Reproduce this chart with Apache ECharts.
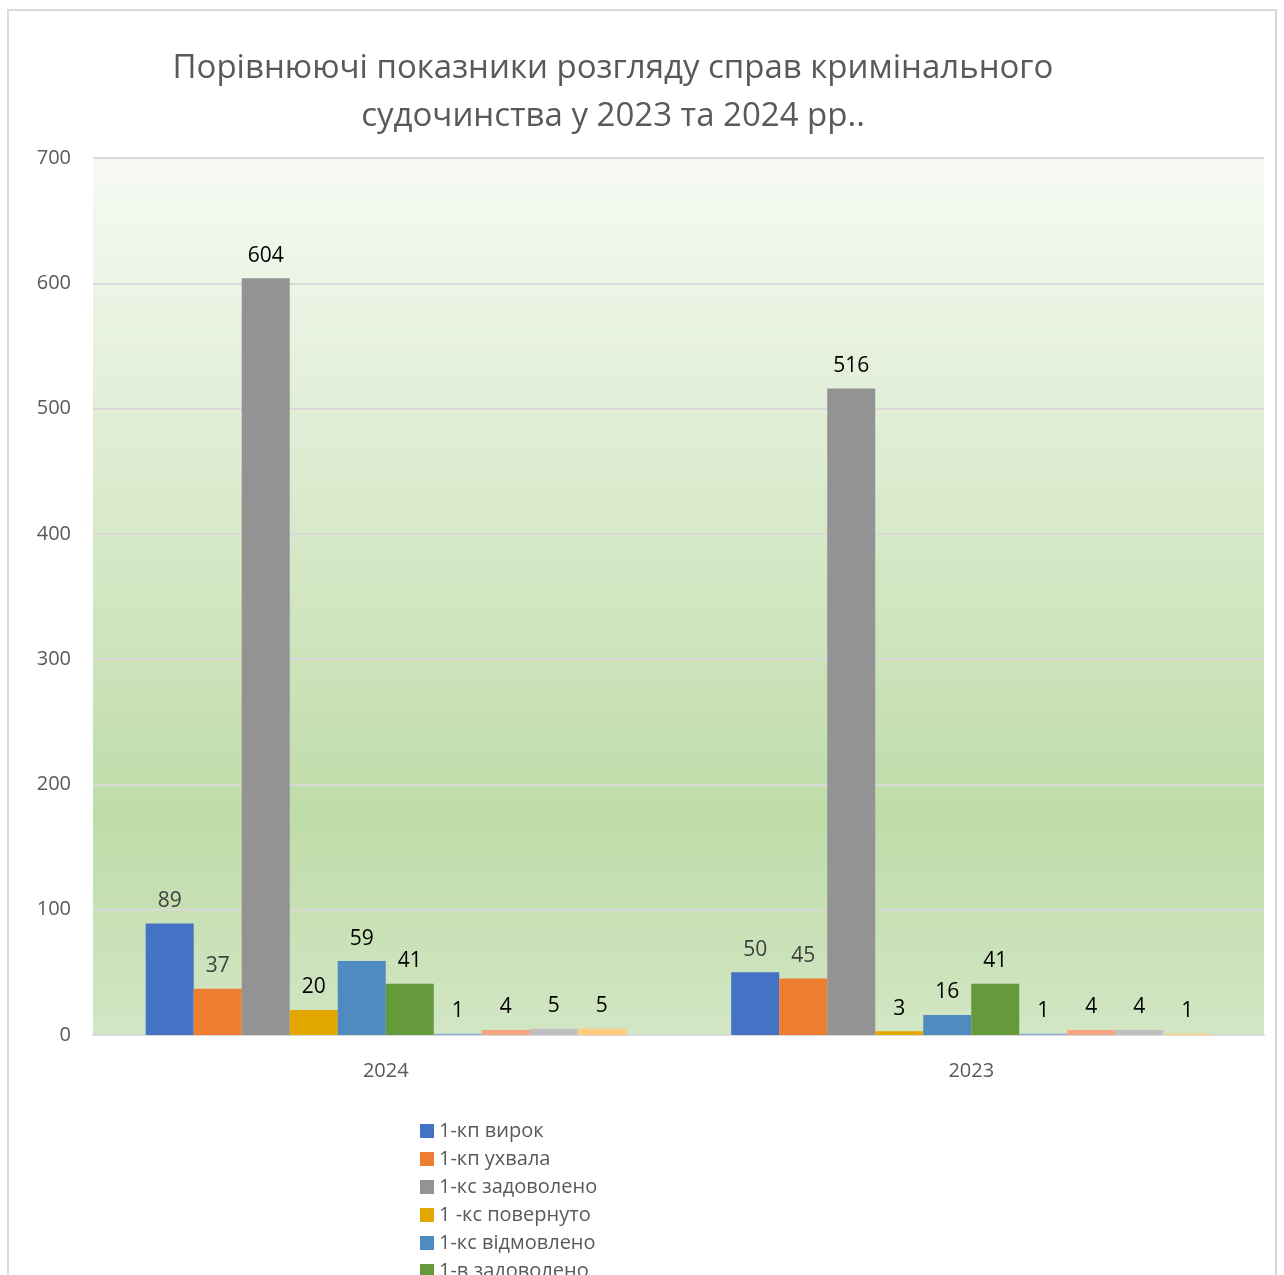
<!DOCTYPE html>
<html>
<head>
<meta charset="utf-8">
<script src="https://cdn.jsdelivr.net/npm/echarts@6/dist/echarts.min.js"></script>
<style>
html,body{margin:0;padding:0;background:#fff;}
#c{width:1284px;height:1275px;}
</style>
</head>
<body>
<div id="c"></div>
<script>
const categories = ['2024', '2023'];
const seriesNames = ['1-кп вирок', '1-кп ухвала', '1-кс задоволено', '1 -кс повернуто', '1-кс відмовлено', '1-в задоволено', '1-в відмовлено', '1-о задоволено', '1-о відмовлено', '1-о повернуто'];
const s1 = [89, 50];
const s2 = [37, 45];
const s3 = [604, 516];
const s4 = [20, 3];
const s5 = [59, 16];
const s6 = [41, 41];
const s7 = [1, 1];
const s8 = [4, 4];
const s9 = [5, 4];
const s10 = [5, 1];
const yTicks = [0, 100, 200, 300, 400, 500, 600, 700];

const values = [s1, s2, s3, s4, s5, s6, s7, s8, s9, s10];
const colors = ['#4472C4', '#ED7D31', '#939393', '#E2A800', '#4F8BC0', '#64993C', '#8FAADC', '#F4A582', '#C0C0C0', '#FFCC80'];
const labelColors = ['#404040', '#404040', '#000', '#000', '#000', '#000', '#000', '#000', '#000', '#000'];
const FONT = '"Open Sans", "Noto Sans", sans-serif';

const chart = echarts.init(document.getElementById('c'));
chart.setOption({
  animation: false,
  color: colors,
  textStyle: { fontFamily: FONT },
  title: {
    text: 'Порівнюючі показники розгляду справ кримінального\nсудочинства у 2023 та 2024 рр..',
    left: 608, top: 40, textAlign: 'center',
    textStyle: { fontFamily: FONT, fontSize: 33, fontWeight: 'normal', color: '#595959', lineHeight: 48 }
  },
  graphic: [{
    type: 'rect', silent: true, z: -10,
    shape: { x: 8, y: 10, width: 1268, height: 1300 },
    style: { fill: 'none', stroke: '#d9d9d9', lineWidth: 2 }
  }],
  legend: {
    orient: 'vertical', left: 415, top: 1116, height: 500,
    itemWidth: 14, itemHeight: 14, itemGap: 8,
    icon: 'rect',
    textStyle: { fontSize: 20, color: '#595959', fontFamily: FONT },
    data: seriesNames
  },
  grid: {
    left: 93, right: 20, top: 158, bottom: 240,
    show: true, borderWidth: 0,
    backgroundColor: new echarts.graphic.LinearGradient(0, 0, 0, 1, [
      { offset: 0, color: '#f7faf4' },
      { offset: 0.75, color: '#bedca8' },
      { offset: 1, color: '#d2e6c4' }
    ])
  },
  xAxis: {
    type: 'category', data: categories,
    axisLine: { show: true, lineStyle: { color: '#d9d9d9', width: 2 } },
    axisTick: { show: false },
    axisLabel: { fontSize: 20, color: '#595959', margin: 26 }
  },
  yAxis: {
    type: 'value', min: 0, max: 700, interval: 100,
    axisLine: { show: false }, axisTick: { show: false },
    axisLabel: { fontSize: 20, color: '#595959', margin: 22, padding: [4, 0, 0, 0],
      formatter: v => yTicks.includes(v) ? String(v) : '' },
    splitLine: { lineStyle: { color: '#d9d9d9', width: 2 } }
  },
  series: values.map((d, i) => ({
    name: seriesNames[i], type: 'bar', data: d,
    barGap: '0%', barCategoryGap: '18%',
    itemStyle: { color: colors[i] },
    label: { show: true, position: 'top', distance: 12, fontSize: 21, color: labelColors[i], fontFamily: FONT }
  }))
});
</script>
</body>
</html>
